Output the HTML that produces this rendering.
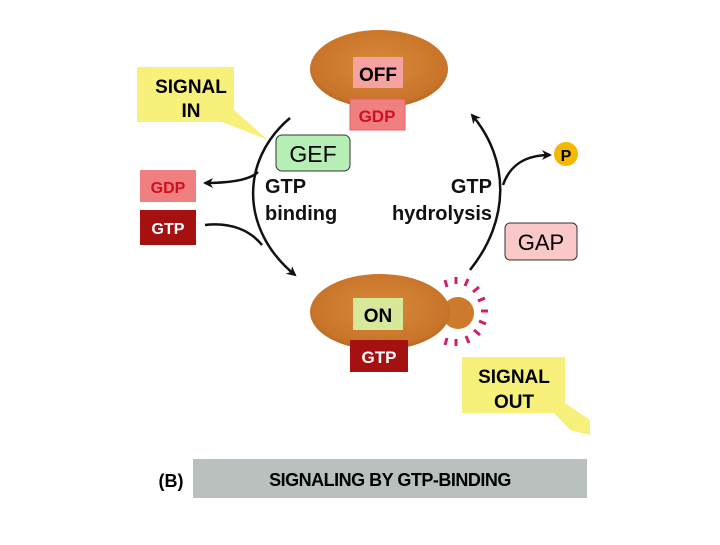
<!DOCTYPE html>
<html><head><style>
body{margin:0;background:#fff;}
svg text{font-family:"Liberation Sans",sans-serif;font-weight:bold;}
</style></head><body>
<svg width="720" height="540" viewBox="0 0 720 540" xmlns="http://www.w3.org/2000/svg">
<defs>
<marker id="ah" markerWidth="10" markerHeight="10" refX="8" refY="5" orient="auto" markerUnits="userSpaceOnUse">
<path d="M0,0 L10,5 L0,10 L3,5 Z" fill="#111"/></marker>
<radialGradient id="og" cx="0.5" cy="0.45" r="0.6"><stop offset="0" stop-color="#d98a3a"/><stop offset="0.8" stop-color="#c8742a"/><stop offset="1" stop-color="#b0601e"/></radialGradient>
</defs>
<!-- SIGNAL IN -->
<polygon points="137,67 234,67 234,110 268,140 222,122 137,122" fill="#f7f07a"/>
<text x="191" y="93" font-size="19" text-anchor="middle">SIGNAL</text>
<text x="191" y="117" font-size="19" text-anchor="middle">IN</text>
<!-- OFF -->
<ellipse cx="379" cy="69" rx="69" ry="39" fill="url(#og)"/>
<rect x="353" y="57" width="50" height="31" fill="#f4a3a0"/>
<text x="378" y="81" font-size="19" text-anchor="middle">OFF</text>
<rect x="350" y="99" width="55" height="31" fill="#f08080" stroke="#e06060"/>
<text x="377" y="122" font-size="17" text-anchor="middle" fill="#d01020">GDP</text>
<!-- arcs -->
<path d="M290,118 C240,160 240,230 295,275" fill="none" stroke="#111" stroke-width="2.5" marker-end="url(#ah)"/>
<path d="M258,172 C250,180 230,183 205,183" fill="none" stroke="#111" stroke-width="2.5" marker-end="url(#ah)"/>
<path d="M205,225 C230,222 250,230 262,245" fill="none" stroke="#111" stroke-width="2.5"/>
<path d="M470,270 C510,220 510,160 472,115" fill="none" stroke="#111" stroke-width="2.5" marker-end="url(#ah)"/>
<path d="M503,185 C510,165 525,155 550,155" fill="none" stroke="#111" stroke-width="2.5" marker-end="url(#ah)"/>
<!-- GEF -->
<rect x="276" y="135" width="74" height="36" rx="6" fill="#b6efb6" stroke="#333"/>
<text x="313" y="162" font-size="23" text-anchor="middle" font-weight="normal" style="font-weight:normal">GEF</text>
<!-- left boxes -->
<rect x="140" y="170" width="56" height="32" fill="#f08080"/>
<text x="168" y="193" font-size="16" text-anchor="middle" fill="#d01020">GDP</text>
<rect x="140" y="210" width="56" height="35" fill="#a51010"/>
<text x="168" y="234" font-size="16" text-anchor="middle" fill="#fff">GTP</text>
<text x="265" y="193" font-size="20" fill="#111">GTP</text>
<text x="265" y="220" font-size="20" fill="#111">binding</text>
<text x="492" y="193" font-size="20" fill="#111" text-anchor="end">GTP</text>
<text x="492" y="220" font-size="20" fill="#111" text-anchor="end">hydrolysis</text>
<!-- P -->
<circle cx="566" cy="154" r="12" fill="#f5b800"/>
<text x="566" y="161" font-size="16" text-anchor="middle">P</text>
<!-- GAP -->
<rect x="505" y="223" width="72" height="37" rx="5" fill="#fbc8c8" stroke="#333"/>
<text x="541" y="250" font-size="22" text-anchor="middle" style="font-weight:normal">GAP</text>
<!-- ON -->
<circle cx="458" cy="313" r="16" fill="#cc7a2c"/>
<ellipse cx="380" cy="312" rx="70" ry="38" fill="url(#og)"/>
<rect x="353" y="298" width="50" height="32" fill="#d8e89a"/>
<text x="378" y="322" font-size="19" text-anchor="middle">ON</text>
<rect x="350" y="340" width="58" height="32" fill="#a51010"/>
<text x="379" y="363" font-size="17" text-anchor="middle" fill="#fff">GTP</text>
<g stroke="#d0206a" stroke-width="3">
<line x1="447" y1="287" x2="445" y2="280"/><line x1="456" y1="284" x2="456" y2="277"/>
<line x1="465" y1="286" x2="468" y2="279"/><line x1="473" y1="292" x2="479" y2="287"/>
<line x1="478" y1="301" x2="485" y2="298"/><line x1="481" y1="311" x2="488" y2="311"/>
<line x1="479" y1="321" x2="486" y2="324"/><line x1="474" y1="330" x2="480" y2="335"/>
<line x1="466" y1="336" x2="469" y2="343"/><line x1="456" y1="339" x2="456" y2="346"/>
<line x1="447" y1="338" x2="445" y2="345"/>
</g>
<!-- SIGNAL OUT -->
<polygon points="462,357 565,357 565,403 590,420 590,435 570,430 554,413 462,413" fill="#f7f07a"/>
<text x="514" y="383" font-size="19" text-anchor="middle">SIGNAL</text>
<text x="514" y="408" font-size="19" text-anchor="middle">OUT</text>
<!-- bottom -->
<rect x="193" y="459" width="394" height="39" fill="#b9c0bd"/>
<text x="390" y="486" font-size="18" text-anchor="middle" letter-spacing="-0.5">SIGNALING BY GTP-BINDING</text>
<text x="171" y="487" font-size="18" text-anchor="middle">(B)</text>
</svg>
</body></html>
